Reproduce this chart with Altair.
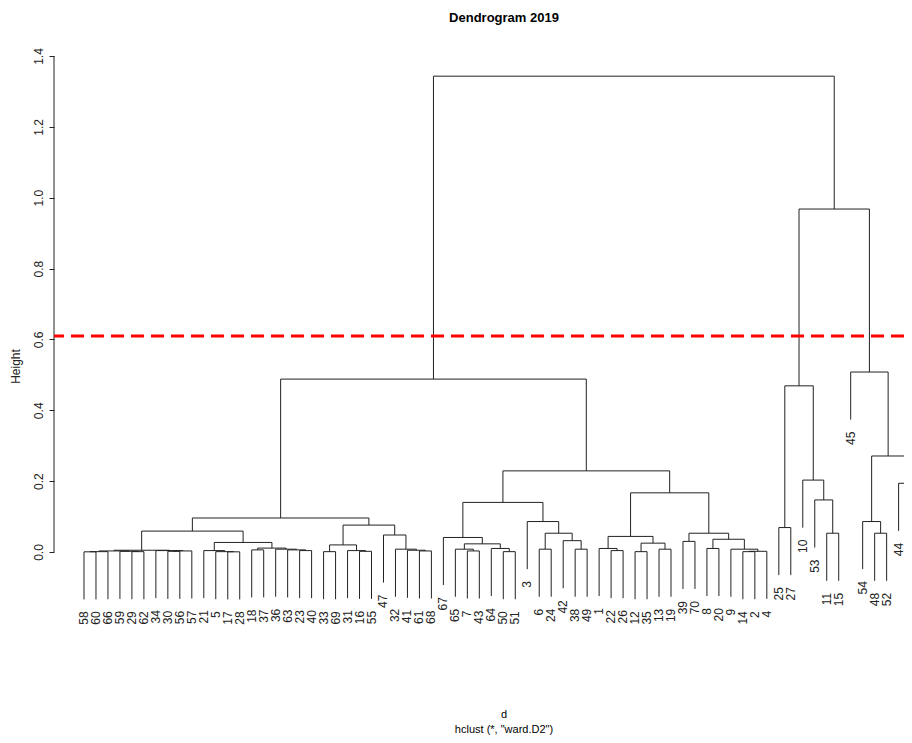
import altair as alt
import pandas as pd

# ---- data: hclust merge table (R convention) ----
# negative number = leaf label, positive number = earlier merge (1-based)
merge_left = [
    -58, 1, -29, -59, 2, -30, 6, -34, 5,
    -17, -5, -21, -18, -23, -63, -36, 13, 12, 9,
    -33, -16, -31, 20, -61, -41, -32, -47, 23, 19,
    -7, -65, -50, -64, 31, -67, -6, -38, -42, 36, -3, 35,
    -22, -1, -12, -13, 44, 43, -39, -8, -14, 50, -9, 49, 48, 47, 41, 29,
    -25, -11, -53, -10, 58, -48, -54, -44, 64, -45, 62, 57,
]
merge_right = [
    -60, -66, -62, 3, 4, -56, -57, 7, 8,
    -28, 10, 11, -37, -40, 14, 15, 16, 17, 18,
    -69, -55, 21, 22, -68, 24, 25, 26, 27, 28,
    -43, 30, -51, 32, 33, 34, -24, -49, 37, 38, 39, 40,
    -26, 42, -35, -19, 45, 46, -70, -20, -2, -4, 51, 52, 53, 54, 55, 56,
    -27, -15, 59, 60, 61, -52, 63, -46, 65, 66, 67, 68,
]
merge_height = [
    0.0005, 0.001, 0.001, 0.002, 0.003, 0.002, 0.003, 0.004, 0.005,
    0.0005, 0.001, 0.004, 0.006, 0.004, 0.006, 0.008, 0.011, 0.027, 0.059,
    0.001, 0.002, 0.004, 0.020, 0.003, 0.005, 0.008, 0.048, 0.076, 0.096,
    0.003, 0.008, 0.001, 0.010, 0.023, 0.041, 0.008, 0.008, 0.032, 0.053, 0.086, 0.140,
    0.004, 0.010, 0.001, 0.008, 0.025, 0.044, 0.030, 0.010, 0.001, 0.002, 0.008, 0.036, 0.053, 0.167, 0.229, 0.488,
    0.069, 0.053, 0.147, 0.203, 0.469, 0.053, 0.086, 0.194, 0.271, 0.508, 0.968, 1.343,
]
y_ticks = [0.0, 0.2, 0.4, 0.6, 0.8, 1.0, 1.2, 1.4]
cut_height = 0.61
title_text = "Dendrogram 2019"
x_title = "d"
sub_title = 'hclust (*, "ward.D2")'
y_title = "Height"

# ---- layout ----
PLOT_W, PLOT_H = 850, 660
X_DOM = [-1.504, 69.45]
Y_DOM = [-0.4177, 1.4451]
FONT = "Liberation Sans, Arial, Helvetica, sans-serif"
NARROW = "Liberation Sans Narrow, Arial Narrow, Liberation Sans, sans-serif"
INK = "#222222"

# ---- build dendrogram geometry from merge table ----
n_merge = len(merge_height)
hang = 0.1 * max(merge_height)


def leaf_order(node):
    if node < 0:
        return [-node]
    return leaf_order(merge_left[node - 1]) + leaf_order(merge_right[node - 1])


order = leaf_order(n_merge)
pos = {lab: i + 1 for i, lab in enumerate(order)}
node_x = {}


def nx(node):
    return pos[-node] if node < 0 else node_x[node]


for k in range(1, n_merge + 1):
    node_x[k] = (nx(merge_left[k - 1]) + nx(merge_right[k - 1])) / 2

segs, leaves = [], []
for k in range(1, n_merge + 1):
    h = merge_height[k - 1]
    a, b = merge_left[k - 1], merge_right[k - 1]
    segs.append(dict(x=nx(a), x2=nx(b), y=h, y2=h))
    for c in (a, b):
        if c < 0:
            bottom = h - hang
            leaves.append(dict(label=str(-c), x=pos[-c], y=bottom))
        else:
            bottom = merge_height[c - 1]
        segs.append(dict(x=nx(c), x2=nx(c), y=bottom, y2=h))

seg_df = pd.DataFrame(segs)
leaf_df = pd.DataFrame(leaves)
leaf_df = leaf_df[leaf_df["x"] <= X_DOM[1]]

xs = alt.Scale(domain=X_DOM, nice=False, zero=False)
ys = alt.Scale(domain=Y_DOM, nice=False, zero=False)

y_axis = alt.Axis(
    values=y_ticks, format=".1f", title=y_title, domain=False, grid=False,
    ticks=True, tickSize=5, tickColor=INK, tickWidth=1,
    labelAngle=270, labelAlign="center", labelBaseline="bottom", labelPadding=4,
    labelFont=FONT, labelFontSize=12, labelColor=INK,
    titleFont=FONT, titleFontSize=12, titleFontWeight="normal", titleColor=INK,
    titleAngle=270, titleX=-39, titleY=326, titleAlign="center", titleBaseline="middle",
)

tree = alt.Chart(seg_df).mark_rule(color=INK, strokeWidth=1, clip=True).encode(
    x=alt.X("x:Q", scale=xs, axis=None),
    x2="x2:Q",
    y=alt.Y("y:Q", scale=ys, axis=y_axis),
    y2="y2:Q",
)

labels = alt.Chart(leaf_df).mark_text(
    angle=270, align="right", baseline="middle", dx=-12,
    font=FONT, fontSize=12, color=INK,
).encode(
    x=alt.X("x:Q", scale=xs, axis=None),
    y=alt.Y("y:Q", scale=ys, axis=y_axis),
    text="label:N",
)

axis_line = alt.Chart(pd.DataFrame({"y": [y_ticks[0]], "y2": [y_ticks[-1]]})).mark_rule(
    color=INK, strokeWidth=1
).encode(x=alt.value(0), y=alt.Y("y:Q", scale=ys, axis=y_axis), y2="y2:Q")

cut = alt.Chart(pd.DataFrame({"y": [cut_height]})).mark_rule(
    color="#ff0000", strokeWidth=3, strokeDash=[13, 7]
).encode(y=alt.Y("y:Q", scale=ys, axis=y_axis))

one = pd.DataFrame({"t": [0]})
title_mark = alt.Chart(one).mark_text(
    text=title_text, font=NARROW, fontSize=13, fontWeight="bold", color="#000000",
    align="center", baseline="middle",
).encode(x=alt.value(450), y=alt.value(-22))
xlab_mark = alt.Chart(one).mark_text(
    text=x_title, font=NARROW, fontSize=11, color="#000000",
    align="center", baseline="middle",
).encode(x=alt.value(450), y=alt.value(675))
sub_mark = alt.Chart(one).mark_text(
    text=sub_title, font=NARROW, fontSize=11, color="#000000",
    align="center", baseline="middle",
).encode(x=alt.value(450), y=alt.value(690))

chart = alt.layer(tree, labels, axis_line, cut, title_mark, xlab_mark, sub_mark).properties(
    width=PLOT_W, height=PLOT_H,
    autosize=alt.AutoSizeParams(type="none"),
    padding={"left": 46, "top": 32, "right": 0, "bottom": 35},
).configure_view(stroke=None)

chart.save("out.html", embed_options={"renderer": "svg", "actions": False})
